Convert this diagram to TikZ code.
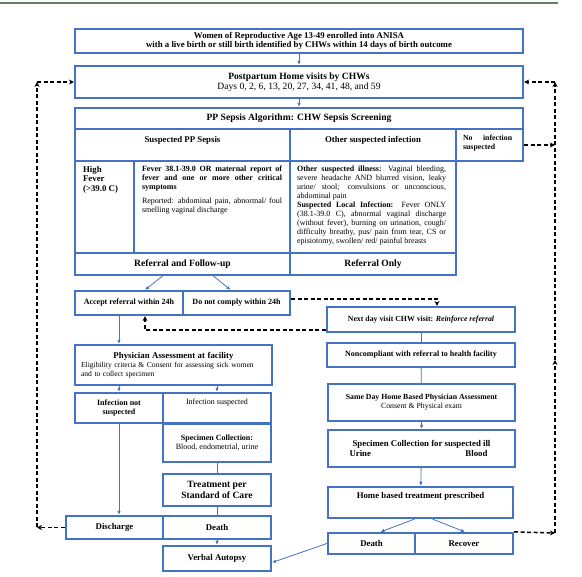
\documentclass[tikz,border=0pt]{standalone}
\usepackage{fontspec}
\setmainfont{Liberation Serif}
\usetikzlibrary{positioning,arrows.meta}

\definecolor{boxblue}{RGB}{68,114,196}
\definecolor{rulegreen}{RGB}{95,130,100}
\newcommand{\fsa}{\fontsize{7.8}{9}\selectfont}
\newcommand{\fsb}{\fontsize{8}{9}\selectfont}
\newcommand{\fsc}{\fontsize{8.8}{9.7}\selectfont}
\newcommand{\fsd}{\fontsize{9.6}{10.5}\selectfont}
\hyphenpenalty=10000
\exhyphenpenalty=10000

\tikzset{
	blk/.style={draw=boxblue,line width=2.2pt,align=center,inner sep=1pt},
	txt/.style={inner sep=0pt,anchor=north west},
	lnk/.style={draw=boxblue,line width=0.8pt,-{Latex[length=4pt,width=3.5pt]}},
	lnkp/.style={draw=boxblue,line width=0.8pt},
	dlnk/.style={draw=black,line width=1.5pt,dash pattern=on 4pt off 2.5pt,-{Stealth[length=5pt,width=5pt]}}
}

\begin{document}
\begin{tikzpicture}[x=1pt,y=-1pt]

\useasboundingbox (0,0) rectangle (582,577);
\draw[rulegreen,line width=1.5pt](0,3)--(558,3);

% enrolment and visits
\node[blk,minimum width=448pt,minimum height=24pt,font=\fsc\bfseries] (women) at (299,41) {Women of Reproductive Age 13-49 enrolled into ANISA\\with a live birth or still birth identified by CHWs within 14 days of birth outcome};
\node[blk,minimum width=448pt,minimum height=32pt,font=\fsd] (visits) at (299,82) {\textbf{Postpartum Home visits by CHWs}\\Days 0, 2, 6, 13, 20, 27, 34, 41, 48, and 59};

% screening table
\node[blk,minimum width=448pt,minimum height=21pt,font=\fsd\bfseries] (algo) at (299,118.5) {PP Sepsis Algorithm: CHW Sepsis Screening};
\node[blk,minimum width=215pt,minimum height=32pt] (ppsep) at (182.5,145) {};
\node[blk,minimum width=166pt,minimum height=32pt] (othinf) at (373,145) {};
\node[blk,minimum width=67pt,minimum height=32pt] (noinf) at (489.5,145) {};
\node[font=\fsc\bfseries] at ([yshift=-12pt]ppsep.north) {Suspected PP Sepsis};
\node[font=\fsc\bfseries] at ([yshift=-12pt]othinf.north) {Other suspected infection};
\node[txt,font=\fsa\bfseries,text width=49pt,align=justify] at ([xshift=8pt,yshift=-7pt]noinf.north west) {No infection suspected};

\node[blk,minimum width=59pt,minimum height=92pt] (hifev) at (104.5,207) {};
\node[blk,minimum width=156pt,minimum height=92pt] (fever) at (212,207) {};
\node[blk,minimum width=166pt,minimum height=92pt] (othill) at (373,207) {};
\node[txt,font=\fsc\bfseries,align=left] at ([xshift=9pt,yshift=-6pt]hifev.north west) {High\\Fever\\(>39.0 C)};
\node[txt,font=\fsb,text width=140pt,align=justify] at ([xshift=9pt,yshift=-6pt]fever.north west) {\textbf{Fever 38.1-39.0 OR maternal report of fever and one or more other critical symptoms}\par\vspace{5pt}Reported: abdominal pain, abnormal/ foul smelling vaginal discharge};
\node[txt,font=\fsb,text width=149pt,align=justify] at ([xshift=8pt,yshift=-6pt]othill.north west) {\textbf{Other suspected illness:} Vaginal bleeding, severe headache AND blurred vision, leaky urine/ stool; convulsions or unconscious, abdominal pain\\\textbf{Suspected Local Infection:} Fever ONLY (38.1-39.0 C), abnormal vaginal discharge (without fever), burning on urination, cough/ difficulty breathy, pus/ pain from tear, CS or episiotomy, swollen/ red/ painful breasts};

\node[blk,minimum width=215pt,minimum height=22pt,font=\fsd\bfseries] (reffu) at (182.5,264) {Referral and Follow-up};
\node[blk,minimum width=166pt,minimum height=22pt,font=\fsd\bfseries] (refonly) at (373,264) {Referral Only};

% facility branch
\node[blk,minimum width=108pt,minimum height=24pt,font=\fsb\bfseries] (accept) at (129,303) {Accept referral within 24h};
\node[blk,minimum width=107pt,minimum height=24pt,font=\fsb\bfseries] (nocomply) at (236.5,303) {Do not comply within 24h};
\node[blk,minimum width=197pt,minimum height=40pt,text width=185pt,align=left,font=\fontsize{7.6}{9}\selectfont] (phys) at (173.5,365) {\makebox[\linewidth]{\fsc\bfseries Physician Assessment at facility}\\Eligibility criteria \& Consent for assessing sick women\\and to collect specimen};
\node[blk,minimum width=88pt,minimum height=30pt,font=\fsb\bfseries] (infnot) at (119,408) {Infection not\\suspected};
\node[blk,minimum width=108pt,minimum height=30pt] (infsus) at (217,408) {};
\node[font=\fsb] at ([yshift=-11pt]infsus.north) {Infection suspected};
\node[blk,minimum width=108pt,minimum height=38pt,font=\fsb] (specfac) at (217,443) {\textbf{Specimen Collection:}\\Blood, endometrial, urine};
\node[blk,minimum width=108pt,minimum height=32pt,font=\fsd\bfseries] (treat) at (217,490) {Treatment per\\Standard of Care};
\node[blk,minimum width=97pt,minimum height=23pt,font=\fsc\bfseries] (discharge) at (114.5,527.5) {Discharge};
\node[blk,minimum width=108pt,minimum height=23pt,font=\fsc\bfseries] (deathf) at (217,527.5) {Death};
\node[blk,minimum width=108pt,minimum height=25pt,font=\fsc\bfseries] (verbal) at (217,558.5) {Verbal Autopsy};

% home branch
\node[blk,minimum width=188pt,minimum height=25pt,font=\fsa\bfseries] (nextday) at (421,319.5) {Next day visit CHW visit: \textit{Reinforce referral}};
\node[blk,minimum width=188pt,minimum height=24pt,font=\fsb\bfseries] (noncomp) at (421,355) {Noncompliant with referral to health facility};
\node[blk,minimum width=187pt,minimum height=37pt,font=\fsa] (sameday) at (421.5,402.5) {\textbf{Same Day Home Based Physician Assessment}\\Consent \& Physical exam};
\node[blk,minimum width=187pt,minimum height=37pt,font=\fsc\bfseries] (spechome) at (421.5,448.5) {Specimen Collection for suspected ill\\\makebox[144pt]{Urine\hfill Blood\hspace{6pt}}};
\node[blk,minimum width=185pt,minimum height=31pt] (homebased) at (420.5,502.5) {};
\node[font=\fsc\bfseries] at ([yshift=-10pt]homebased.north) {Home based treatment prescribed};
\node[blk,minimum width=87pt,minimum height=21pt,font=\fsc\bfseries] (deathh) at (371.5,543.5) {Death};
\node[blk,minimum width=98pt,minimum height=21pt,font=\fsc\bfseries] (recover) at (464,543.5) {Recover};

% blue connectors
\draw[lnk](women)--(visits);
\draw[lnk](visits)--(algo);
\draw[lnk]([xshift=-20pt]reffu.south)--([xshift=16pt]accept.north);
\draw[lnk]([xshift=31pt]reffu.south)--([xshift=-6pt]nocomply.north);
\draw[lnk](accept.south -| infnot.north)--(phys.north -| infnot.north);
\draw[lnk](phys.south -| infnot.north)--(infnot.north);
\draw[lnk](phys.south -| infsus.north)--(infsus.north);
\draw[lnk](infnot.south)--(infnot.south |- discharge.north);
\draw[lnkp](specfac)--(treat);
\draw[lnkp](treat)--(deathf);
\draw[lnk](deathf)--(verbal);
\draw[lnkp](nextday)--(noncomp);
\draw[lnkp](noncomp)--(sameday);
\draw[lnk](sameday)--(spechome);
\draw[lnk](spechome)--(homebased);
\draw[lnk]([xshift=-6pt]homebased.south)--([xshift=9pt]deathh.north);
\draw[lnk]([xshift=12pt]homebased.south)--([xshift=1pt]recover.north);
\draw[lnk](deathh.west)--([yshift=-4pt]verbal.east);

% dashed loops
\coordinate (lbot) at (37,527.5);
\coordinate (ltop) at (37,82);
\coordinate (rbot) at (555,533);
\coordinate (rmid) at (555,360);
\coordinate (rtop) at (555,82);

\draw[dlnk]([yshift=4pt]nocomply.east)-|([xshift=16pt]nextday.north);
\draw[dlnk]([yshift=3pt]nextday.south west)-|([xshift=16pt]accept.south);
\draw[dlnk](discharge.west)--(lbot);
\draw[dlnk](lbot)--(ltop);
\draw[dlnk](ltop)--(visits.west);
\draw[dlnk](noinf.east)--(noinf.east -| rtop);
\draw[dlnk](recover.north east)--(rbot);
\draw[dlnk](rbot)--(rmid);
\draw[dlnk](rmid)--(rtop);
\draw[dlnk](rtop)--(visits.east);

\end{tikzpicture}
\end{document}
